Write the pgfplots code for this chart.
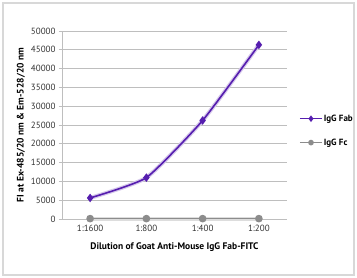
\documentclass[border=0pt]{standalone}
\usepackage{pgfplots}
\pgfplotsset{compat=1.18}
\usepackage{fontspec}
\setmainfont{PT Sans}
\definecolor{fab}{RGB}{86,30,175}
\definecolor{fc}{RGB}{140,140,140}
\definecolor{gridc}{RGB}{190,190,190}
\begin{document}
\begin{tikzpicture}[x=1pt,y=1pt]
\path[fill=white] (0,0) rectangle (357,278);
\draw[gridc!60, line width=1.5pt] (3,3) rectangle (354,275);
\begin{axis}[
  at={(62pt,59pt)}, anchor=south west,
  scale only axis, width=225pt, height=188pt,
  xmin=-0.5, xmax=3.5, ymin=0, ymax=50000,
  xtick={0,1,2,3},
  xticklabels={1:1600,1:800,1:400,1:200},
  x tick style={draw=none},
  extra x ticks={-0.5,0.5,1.5,2.5,3.5},
  extra x tick labels={},
  extra x tick style={tick style={draw=gridc, thick}, major tick length=3pt, tick align=outside, xticklabel=\empty},
  ytick={0,5000,...,50000},
  scaled y ticks=false,
  yticklabel style={/pgf/number format/1000 sep={}, font=\fontsize{9}{10}\selectfont, text=black!80},
  xticklabel style={font=\fontsize{9}{10}\selectfont, text=black!80},
  /pgf/number format/assume math mode=true,
  y tick style={draw=gridc, thick}, tick align=outside, major tick length=3pt,
  ymajorgrids, grid style={gridc, thick},
  axis line style={draw=gridc, thick},
  axis x line*=bottom, axis y line*=left,
  xlabel={\bfseries Dilution of Goat Anti-Mouse IgG Fab-FITC},
  ylabel={\bfseries FI at Ex-485/20 nm \& Em-528/20 nm},
  label style={font=\fontsize{9.5}{10}\selectfont\bfseries},
  xlabel style={yshift=2pt},
  ylabel style={yshift=-1pt},
  legend style={at={(1.04,0.47)}, anchor=west, draw=none, fill=none,
    font=\fontsize{9}{10}\selectfont\bfseries, row sep=12pt,
    nodes={inner xsep=1pt}},
  legend cell align=left,
  legend image code/.code={
    \draw[#1, mark=none] (0pt,0pt) -- (22pt,0pt);
    \draw[#1, mark size=2pt] plot coordinates {(11pt,0pt)};
  },
  clip=false,
]
\addplot[forget plot, color=fab!25, line width=4pt, smooth, tension=0.3]
  coordinates {(0,5600) (1,11000) (2,26200) (3,46300)};
\addplot[forget plot, color=fc!30, line width=4pt]
  coordinates {(-0.02,100) (3.02,100)};
\addplot[color=fab, line width=1.6pt, smooth, tension=0.3, mark=diamond*, mark size=3pt, mark options={fill=fab}]
  coordinates {(0,5600) (1,11000) (2,26200) (3,46300)};
\addlegendentry{IgG Fab}
\addplot[color=fc, line width=1.6pt, mark=*, mark size=3pt, mark options={fill=fc}]
  coordinates {(0,100) (1,100) (2,100) (3,100)};
\addlegendentry{IgG Fc}
\end{axis}
\end{tikzpicture}
\end{document}
